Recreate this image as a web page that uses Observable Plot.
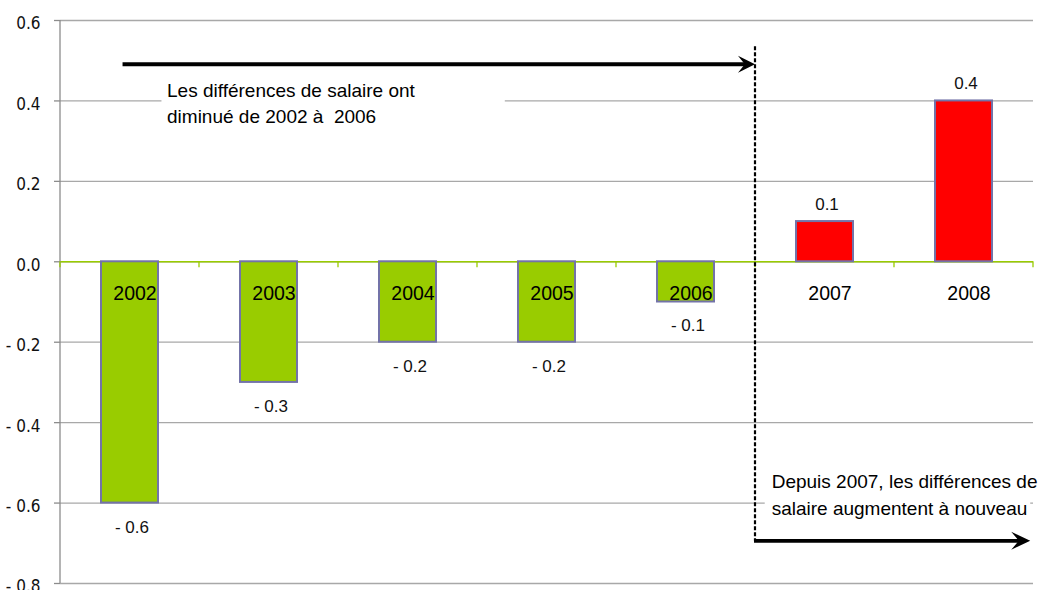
<!DOCTYPE html>
<html><head><meta charset="utf-8">
<script src="https://cdn.jsdelivr.net/npm/d3@7"></script>
<script src="https://cdn.jsdelivr.net/npm/@observablehq/plot@0.6"></script>
<style>
body{margin:0;background:#fff;overflow:hidden}
#chart svg{display:block}
</style>
</head><body><div id="chart"></div>
<script>
// ---- data ----
const years = ["2002","2003","2004","2005","2006","2007","2008"];
const values = [-0.6, -0.3, -0.2, -0.2, -0.1, 0.1, 0.4];
const yTicks = [0.6, 0.4, 0.2, 0, -0.2, -0.4, -0.6, -0.8];
const noteTop = ["Les différences de salaire ont", "diminué de 2002 à  2006"];
const noteBottom = ["Depuis 2007, les différences de", "salaire augmentent à nouveau"];

// ---- styling / annotation placement (band index units and data units) ----
const GREEN = "#99cc00", RED = "#ff0000", BAR_STROKE = "#7373a8", GRID = "#a8a8a8";
const PAD_INNER = 0.59;
const annot = {
  topArrow: {p1: 0.45, p2: 5, y: 0.49},
  divider: {p: 5, y1: 0.535, y2: -0.695},
  bottomArrow: {p1: 5, p2: 6.98, y: -0.695},
  topNote: {box: [0.73, 3.2, 0.463, 0.313], x: 0.77, y: 0.409},
  bottomNote: {box: [5.07, 6.98, -0.515, -0.65], x: 5.12, y: -0.565}
};

const data = years.map((year, i) => ({year, value: values[i]}));
const fmt = d => d < 0 ? "- " + Math.abs(d).toFixed(1) : d.toFixed(1);
const FONT = "'Liberation Sans', Arial, sans-serif";
const NARROW = "'Liberation Sans Narrow', 'Arial Narrow', 'DejaVu Sans Condensed', sans-serif";

function bandPos(scales) {
  const x = scales.x;
  const step = x(years[1]) - x(years[0]);
  return p => x(years[0]) - PAD_INNER * step / 2 + p * step;
}

// zero line boundary ticks + y axis line
function zeroTicks(index, scales, values, dims) {
  const px = bandPos(scales), y0 = scales.y(0);
  const g = d3.create("svg:g");
  g.append("line")
    .attr("x1", dims.marginLeft).attr("x2", dims.marginLeft)
    .attr("y1", dims.marginTop).attr("y2", dims.height - dims.marginBottom)
    .attr("stroke", "#8c8c8c").attr("stroke-width", 1.3);
  for (let p = 0; p <= years.length; p++) {
    g.append("line").attr("x1", px(p)).attr("x2", px(p))
      .attr("y1", y0).attr("y2", y0 + 6)
      .attr("stroke", GREEN).attr("stroke-width", 1.3);
  }
  return g.node();
}

function arrowHead(g, tipX, y, len, half) {
  g.append("path")
    .attr("d", `M${tipX},${y} L${tipX - len},${y - half} L${tipX - len * 0.6},${y} L${tipX - len},${y + half} Z`)
    .attr("fill", "#000");
}

function annotations(index, scales, values, dims) {
  const px = bandPos(scales), y = scales.y;
  const g = d3.create("svg:g");
  // note boxes
  for (const [note, lines] of [[annot.topNote, noteTop], [annot.bottomNote, noteBottom]]) {
    const [a, b, t, bt] = note.box;
    g.append("rect").attr("x", px(a)).attr("width", px(b) - px(a))
      .attr("y", y(t)).attr("height", y(bt) - y(t)).attr("fill", "#fff");
    const txt = g.append("text").attr("x", px(note.x)).attr("y", y(note.y))
      .attr("text-anchor", "start")
      .attr("font-family", FONT).attr("font-size", 19).attr("fill", "#000");
    lines.forEach((l, i) => txt.append("tspan").attr("x", px(note.x)).attr("dy", i ? 26.6 : 0).text(l));
  }
  // top arrow
  const ta = annot.topArrow;
  g.append("line").attr("x1", px(ta.p1)).attr("x2", px(ta.p2) - 8)
    .attr("y1", y(ta.y)).attr("y2", y(ta.y)).attr("stroke", "#000").attr("stroke-width", 3.8);
  arrowHead(g, px(ta.p2), y(ta.y), 17, 8.5);
  // divider
  const dv = annot.divider;
  g.append("line").attr("x1", px(dv.p)).attr("x2", px(dv.p))
    .attr("y1", y(dv.y1)).attr("y2", y(dv.y2))
    .attr("stroke", "#000").attr("stroke-width", 2.2).attr("stroke-dasharray", "4,2");
  // bottom arrow
  const ba = annot.bottomArrow;
  g.append("line").attr("x1", px(ba.p1) - 1).attr("x2", px(ba.p2) - 8)
    .attr("y1", y(ba.y)).attr("y2", y(ba.y)).attr("stroke", "#000").attr("stroke-width", 3.8);
  arrowHead(g, px(ba.p2), y(ba.y), 19, 9);
  return g.node();
}

const chart = Plot.plot({
  width: 1047,
  height: 590,
  marginTop: 20,
  marginBottom: 7,
  marginLeft: 60,
  marginRight: 14,
  x: {type: "band", domain: years, paddingInner: PAD_INNER, paddingOuter: PAD_INNER / 2, axis: null},
  y: {domain: [-0.8, 0.6], axis: null},
  color: {type: "identity"},
  style: {fontFamily: FONT, background: "#fff", overflow: "visible"},
  marks: [
    Plot.gridY(yTicks, {stroke: GRID, strokeOpacity: 1, strokeWidth: 1.3}),
    Plot.axisY(yTicks, {tickSize: 6, tickFormat: () => "", label: null, stroke: "#8c8c8c", strokeWidth: 1.3}),
    Plot.text(yTicks, {y: d => d, text: fmt, frameAnchor: "left", textAnchor: "end", dx: -20, dy: 3.5,
      fontSize: 17, fontFamily: NARROW, fill: "#111"}),
    Plot.ruleY([0], {stroke: GREEN, strokeWidth: 1.5}),
    zeroTicks,
    Plot.barY(data, {x: "year", y: "value", fill: d => d.value < 0 ? GREEN : RED,
      stroke: BAR_STROKE, strokeWidth: 2}),
    annotations,
    Plot.text(data, {x: "year", y: 0, text: "year", dx: 5, dy: 31.8, fontSize: 19.5, fill: "#000"}),
    Plot.text(data.filter(d => d.value < 0), {x: "year", y: "value", text: d => fmt(d.value),
      dx: 2, dy: 24, fontSize: 17, fill: "#111"}),
    Plot.text(data.filter(d => d.value > 0), {x: "year", y: "value", text: d => fmt(d.value),
      dx: 2, dy: -17, fontSize: 17, fill: "#111"})
  ]
});
document.getElementById("chart").appendChild(chart);
</script>
</body></html>
